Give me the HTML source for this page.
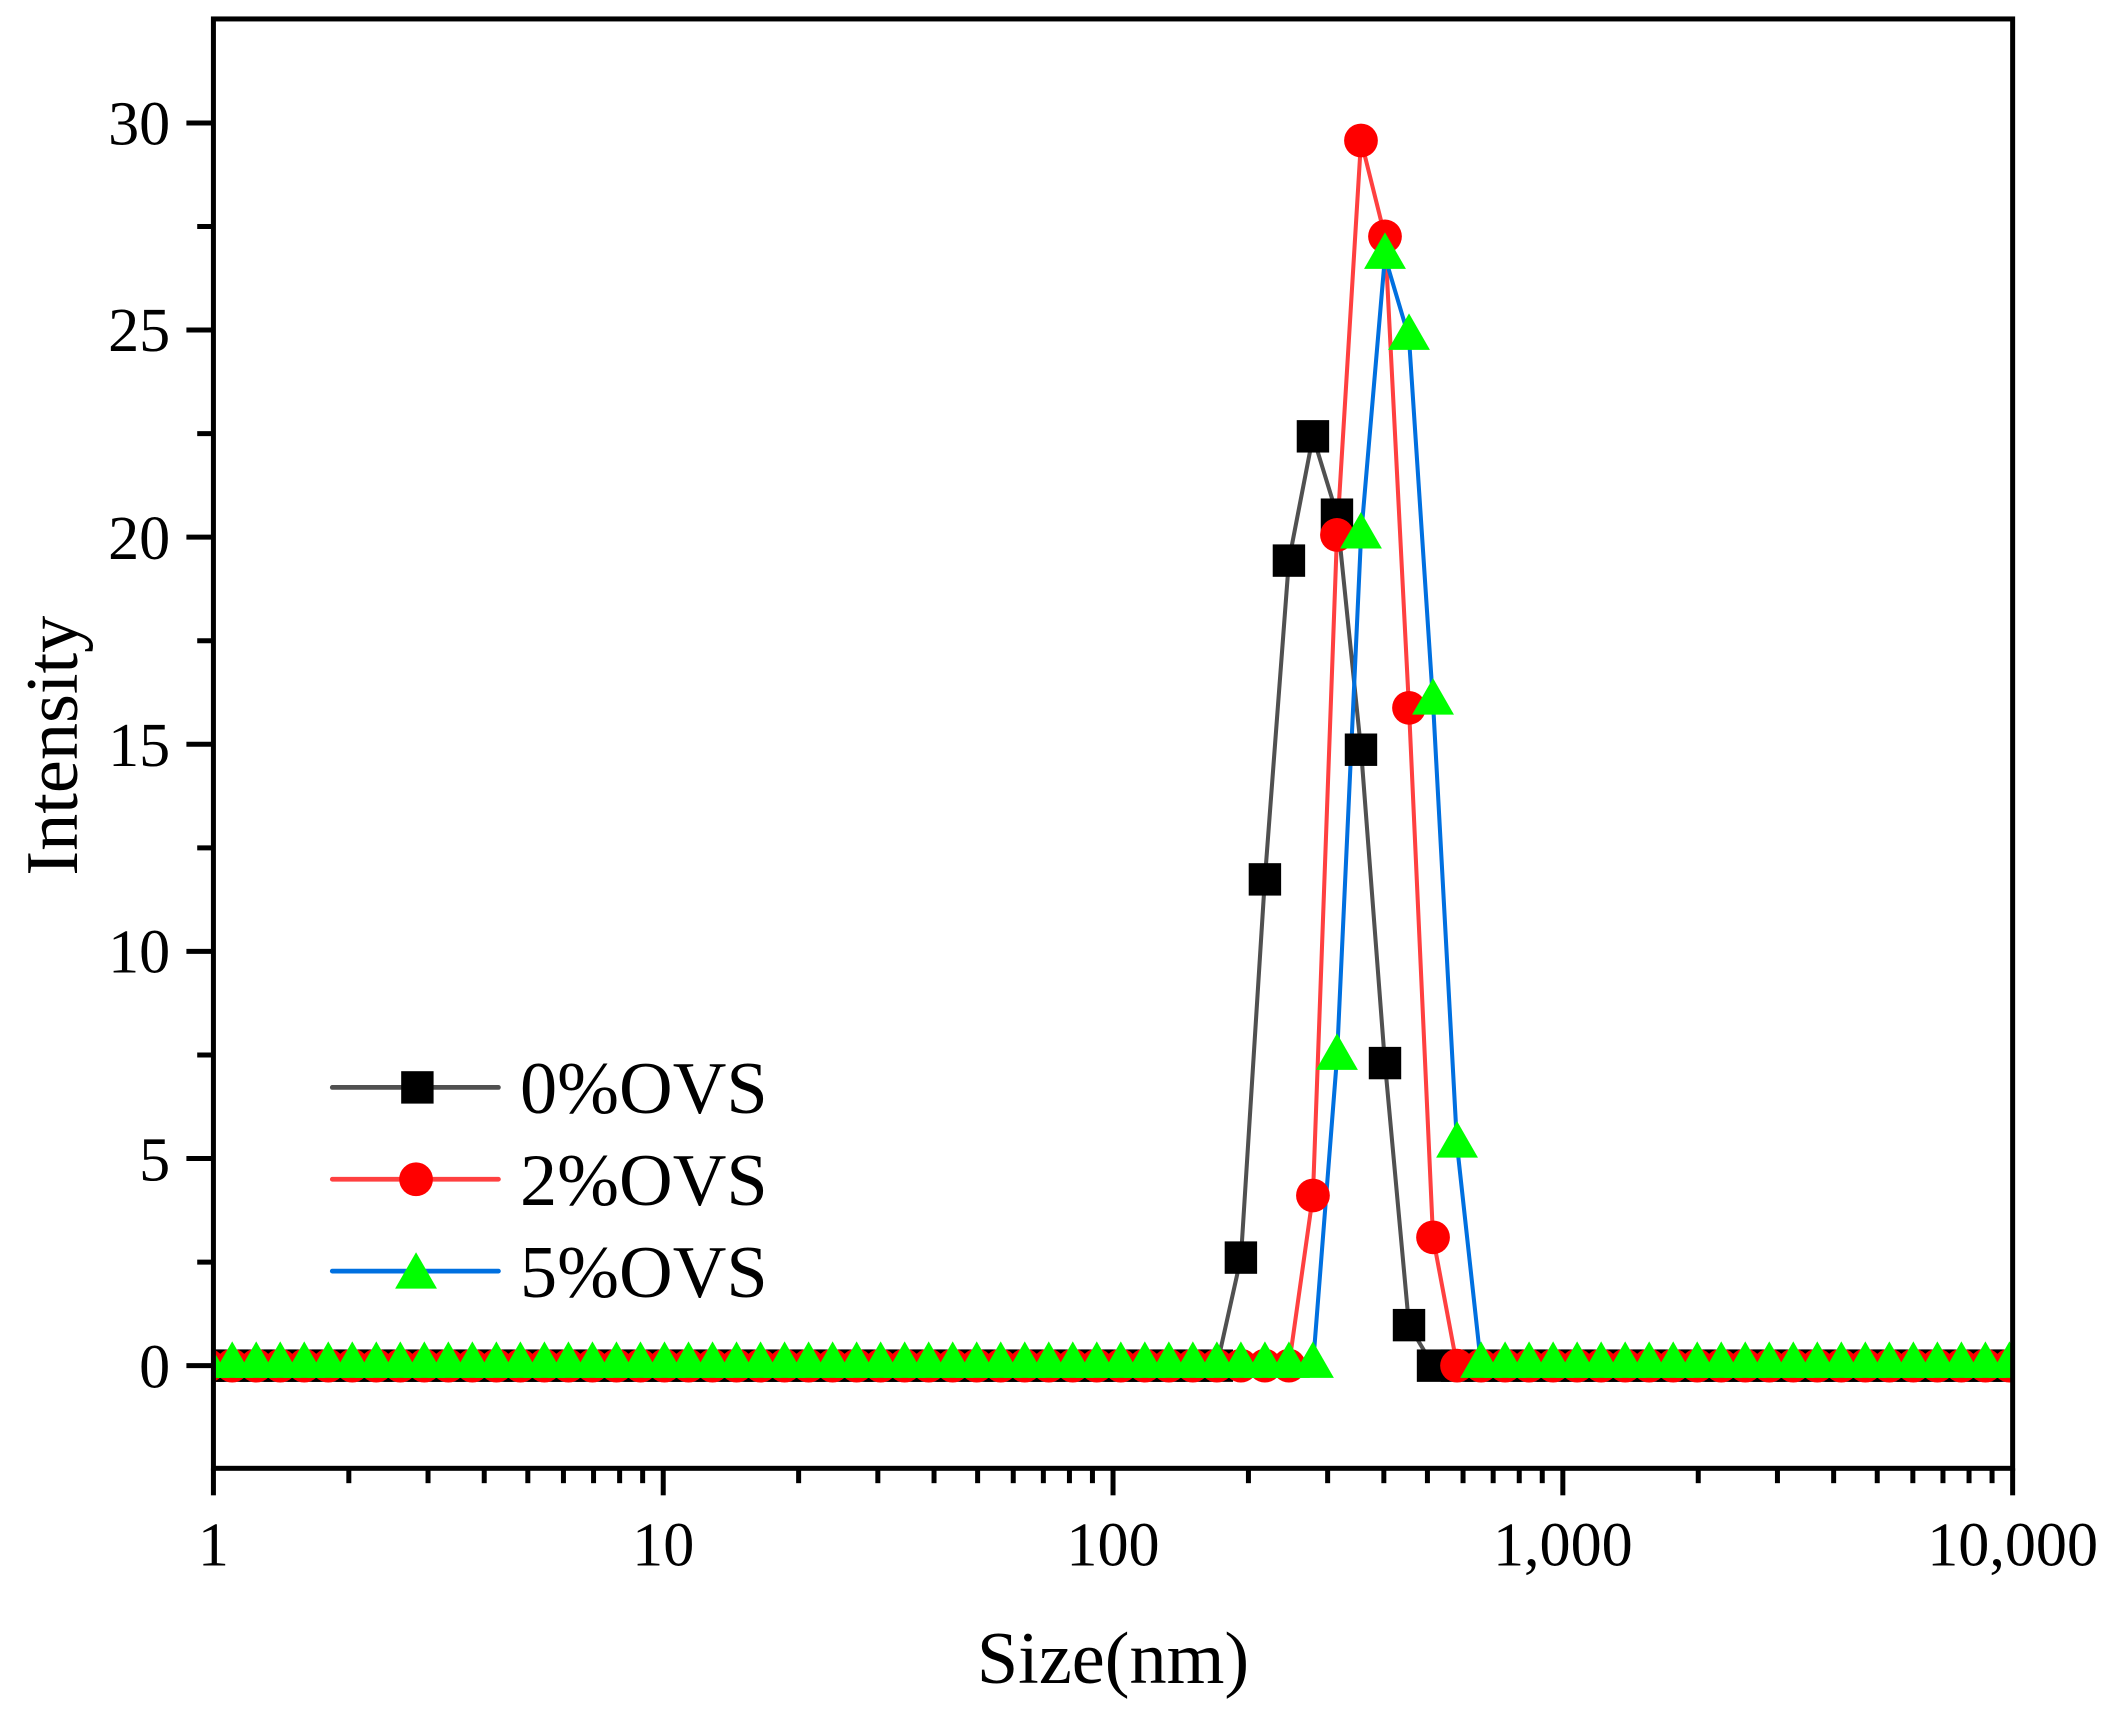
<!DOCTYPE html>
<html><head><meta charset="utf-8"><style>
html,body{margin:0;padding:0;background:#fff;}
svg{display:block;}
text{font-family:"Liberation Serif","Times New Roman",serif;fill:#000;}
</style></head><body>
<svg id="c" width="2118" height="1715" viewBox="0 0 1568 1269.6" xmlns="http://www.w3.org/2000/svg">
<defs><clipPath id="cp"><rect x="158" y="14" width="1332" height="1073"/></clipPath></defs>
<g id="series" clip-path="url(#cp)"></g>
<g id="axes" stroke="#000" stroke-width="3.7" fill="none">
<rect x="158" y="14" width="1332" height="1073"/>
</g>
<g id="ticks" stroke="#000" stroke-width="3.7"></g>
<g font-size="46" text-anchor="end">
<text x="126" y="1027">0</text>
<text x="126" y="874">5</text>
<text x="126" y="720">10</text>
<text x="126" y="567">15</text>
<text x="126" y="414">20</text>
<text x="126" y="260">25</text>
<text x="126" y="107">30</text>
</g>
<g font-size="46" text-anchor="middle">
<text x="158" y="1159">1</text>
<text x="491" y="1159">10</text>
<text x="824" y="1159">100</text>
<text x="1157" y="1159">1,000</text>
<text x="1490" y="1159">10,000</text>
</g>
<text x="824" y="1246" font-size="55" text-anchor="middle">Size(nm)</text>
<text transform="translate(57,552) rotate(-90)" font-size="55" text-anchor="middle">Intensity</text>
<g>
<line x1="246" y1="805" x2="369" y2="805" stroke="#505050" stroke-width="3.5" stroke-linecap="round"/>
<rect x="297" y="793" width="24" height="24" fill="#000"/>
<line x1="246" y1="873" x2="369" y2="873" stroke="#ff4040" stroke-width="3.5" stroke-linecap="round"/>
<circle cx="308" cy="873" r="12.5" fill="#ff0000"/>
<line x1="246" y1="941" x2="369" y2="941" stroke="#0070e0" stroke-width="3.5" stroke-linecap="round"/>
<polygon points="308,927 323.5,954 292.5,954" fill="#00ff00"/>
<g font-size="55"><text x="385" y="824">0%OVS</text><text x="385" y="892">2%OVS</text><text x="385" y="960">5%OVS</text></g>
</g>
</svg>
<script>
var NS="http://www.w3.org/2000/svg";
function el(t,a,p){var e=document.createElementNS(NS,t);for(var k in a)e.setAttribute(k,a[k]);p.appendChild(e);return e;}
var tk=document.getElementById('ticks');
for(var i=0;i<=13;i++){var v=-2.5+i*2.5;var y=1011-v*30.667;if(y>1087||y<14)continue;var maj=(i%2==1);el('line',{x1:158-(maj?20:12),y1:y,x2:158,y2:y},tk);}
for(var d=0;d<4;d++){for(var m=1;m<10;m++){var x=158+333*(d+Math.log10(m));el('line',{x1:x,y1:1087,x2:x,y2:1087+(m==1?20:11)},tk);}}
el('line',{x1:1490,y1:1087,x2:1490,y2:1107},tk);
var S=document.getElementById('series');
var dx=17.78;
function grid(){var a=[];for(var x=972-46*dx;x<1500;x+=dx)a.push(x);return a;}
var G=grid();
function near(x){var b=G[0];for(var i=0;i<G.length;i++)if(Math.abs(G[i]-x)<Math.abs(b-x))b=G[i];return b;}
function build(pk){var map={};pk.forEach(function(p){map[Math.round(near(p[0]))]=p[1];});return G.map(function(x){var k=Math.round(x);return [x,map[k]!==undefined?map[k]:1011];});}
var black=build([[919,931],[936,651],[954,415],[972,323],[990,381],[1008,555],[1025,787],[1042,981],[1060,1011]]);
var red=build([[972,885],[990,396],[1008,104],[1025,175],[1042,524],[1060,916],[1078,1011]]);
var green=build([[990,783],[1008,397],[1025,190],[1042,250],[1060,520],[1078,848],[1095,1011]]);
function line(pts,c){el('polyline',{points:pts.map(function(p){return p[0].toFixed(1)+','+p[1];}).join(' '),fill:'none',stroke:c,'stroke-width':3,'stroke-linejoin':'round'},S);}
line(black,'#505050');line(red,'#ff4040');line(green,'#0070e0');
black.forEach(function(p){el('rect',{x:p[0]-12,y:p[1]-12,width:24,height:24,fill:'#000'},S);});
red.forEach(function(p){el('circle',{cx:p[0],cy:p[1],r:12.5,fill:'#ff0000'},S);});
green.forEach(function(p){var x=p[0],y=p[1]-4;el('polygon',{points:x+','+(y-14)+' '+(x+15.5)+','+(y+13)+' '+(x-15.5)+','+(y+13),fill:'#00ff00'},S);});
</script>
</body></html>
